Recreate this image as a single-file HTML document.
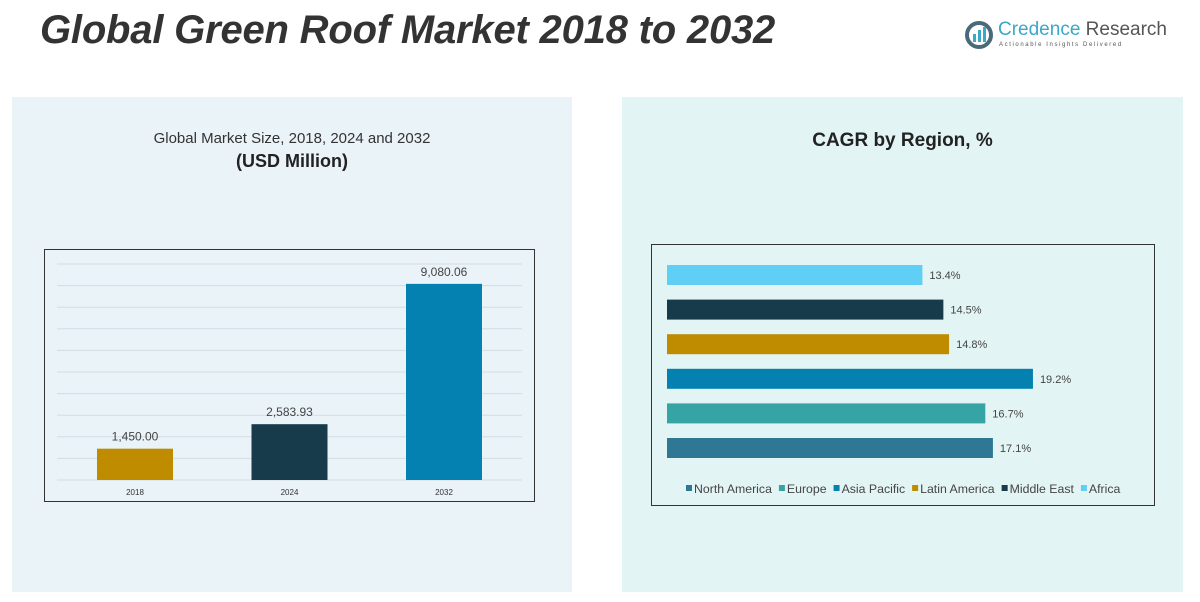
<!DOCTYPE html>
<html><head><meta charset="utf-8"><style>
body{margin:0;width:1200px;height:602px;background:#fff;font-family:"Liberation Sans",sans-serif;position:relative;overflow:hidden}
.abs{position:absolute}
</style></head><body>
<div class="abs" style="left:40px;top:8px;font-size:40px;font-weight:bold;font-style:italic;color:#333;letter-spacing:-0.2px;white-space:nowrap">Global Green Roof Market 2018 to 2032</div>
<div class="abs" style="left:964px;top:18px;width:200px;height:34px">
 <svg width="30" height="30" style="position:absolute;left:0;top:2px"><circle cx="15" cy="15" r="12" fill="none" stroke="#4a6a7a" stroke-width="4"/><rect x="9" y="14" width="3" height="8" fill="#3aa8c8"/><rect x="14" y="10" width="3" height="12" fill="#3aa8c8"/><rect x="19" y="7" width="3" height="15" fill="#3aa8c8"/></svg>
 <div style="position:absolute;left:34px;top:1px;font-size:19px;color:#3aa8c8;white-space:nowrap">Credence <span style="color:#555">Research</span></div>
 <div style="position:absolute;left:35px;top:24px;font-size:6px;letter-spacing:1.6px;color:#555;white-space:nowrap">Actionable Insights Delivered</div>
</div>
<div class="abs" style="left:12px;top:97px;width:560px;height:495px;background:#eaf3f8"></div>
<div class="abs" style="left:622px;top:97px;width:561px;height:495px;background:#e3f4f4"></div>
<div class="abs" style="left:12px;top:130px;width:560px;text-align:center;font-size:15px;color:#333">Global Market Size, 2018, 2024 and 2032</div>
<div class="abs" style="left:12px;top:151px;width:560px;text-align:center;font-size:18px;font-weight:bold;color:#222">(USD Million)</div>
<div class="abs" style="left:622px;top:130px;width:561px;text-align:center;font-size:19px;font-weight:bold;color:#222">CAGR by Region, %</div>
<svg class="abs" style="left:0;top:0" width="1200" height="602" id="svg"></svg>
<script>
const years=["2018","2024","2032"];
const sizes=[1450.00,2583.93,9080.06];
const sizeLabels=["1,450.00","2,583.93","9,080.06"];
const gridTicks=[0,1000,2000,3000,4000,5000,6000,7000,8000,9000,10000];
const regions=["Africa","Middle East","Latin America","Asia Pacific","Europe","North America"];
const cagr=[13.4,14.5,14.8,19.2,16.7,17.1];
const legendOrder=["North America","Europe","Asia Pacific","Latin America","Middle East","Africa"];
const colors={"North America":"#2e7795","Europe":"#36a4a4","Asia Pacific":"#0481b0","Latin America":"#bf8c00","Middle East":"#173b4a","Africa":"#5fcff5"};
const yearColors=["#bf8c00","#173b4a","#0481b0"];
const NS="http://www.w3.org/2000/svg";
const svg=document.getElementById('svg');
function mk(t,a){const e=document.createElementNS(NS,t);for(const k in a)e.setAttribute(k,a[k]);svg.appendChild(e);return e;}
let box=mk('rect',{x:44.5,y:249.5,width:490,height:252,fill:'none',stroke:'#333','stroke-width':1});

const y0=480,yTop=264,yMax=10000;
const ys=v=>y0-(v/yMax)*(y0-yTop);
gridTicks.forEach(t=>{const l=mk('line',{x1:57,x2:522,y1:ys(t),y2:ys(t),stroke:'#d3dde2','stroke-width':1});
});
const xc=i=>135+i*154.5;
sizes.forEach((v,i)=>{
 const r=mk('rect',{x:xc(i)-38,y:ys(v),width:76,height:y0-ys(v),fill:yearColors[i]});
 
 const t=mk('text',{x:xc(i),y:ys(v)-8,'text-anchor':'middle','font-size':12,fill:'#444'});t.textContent=sizeLabels[i];
 
 const a=mk('text',{x:xc(i),y:495,'text-anchor':'middle','font-size':8,fill:'#333'});a.textContent=years[i];
 
});
let box2=mk('rect',{x:651.5,y:244.5,width:503,height:261,fill:'none',stroke:'#333','stroke-width':1});

const x0=667,pxPer=19.06;
regions.forEach((r,i)=>{
 const yc=275+i*34.6;
 const w=cagr[i]*pxPer;
 const b=mk('rect',{x:x0,y:yc-10,width:w,height:20,fill:colors[r]});
 
 const t=mk('text',{x:x0+w+7,y:yc+4,'font-size':11,fill:'#444'});t.textContent=cagr[i].toFixed(1)+'%';
 
});
let lx=686;
legendOrder.forEach(r=>{
 const s=mk('rect',{x:lx,y:485,width:6,height:6,fill:colors[r]});
 
 const t=mk('text',{x:lx+8,y:493,'font-size':12.3,fill:'#444'});t.textContent=r;
 
 lx+=8+t.getComputedTextLength()+7;
});
</script>
</body></html>
